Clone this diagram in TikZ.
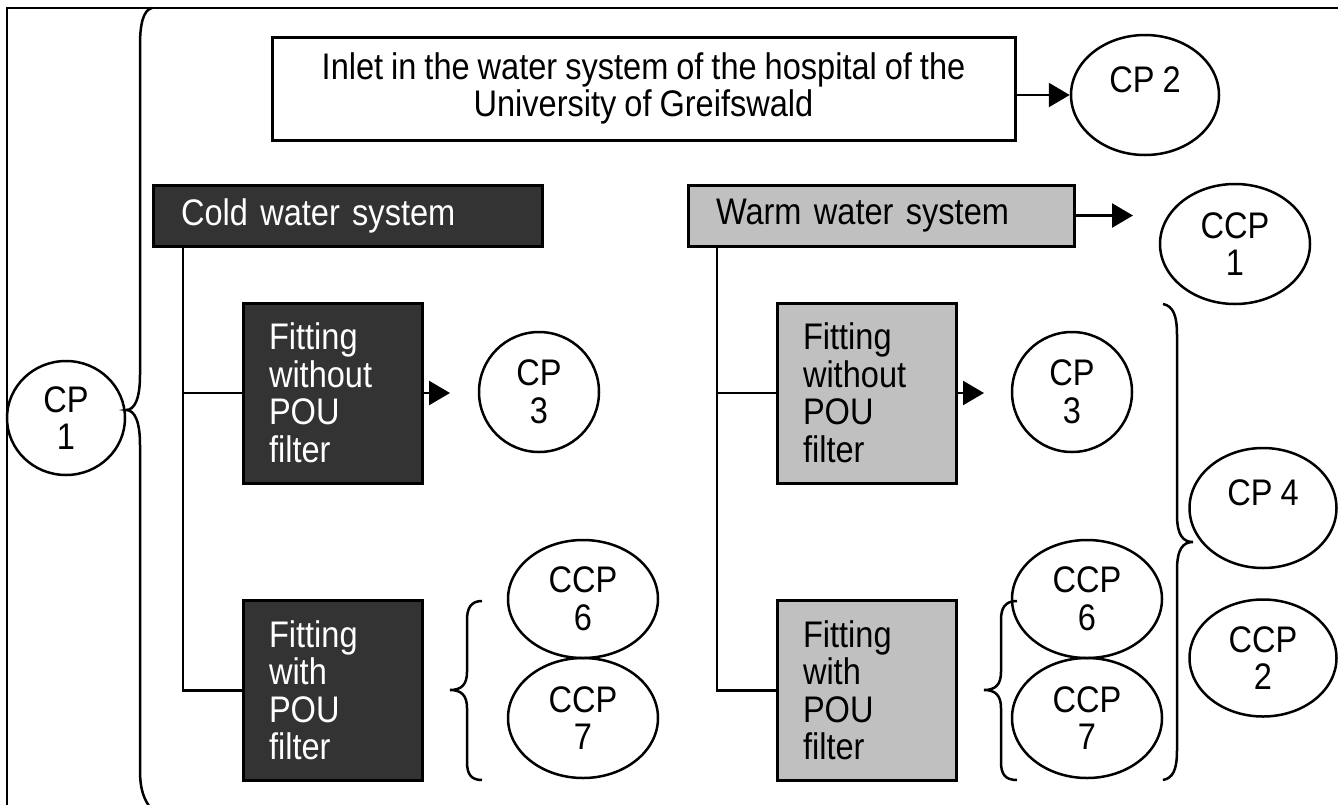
\documentclass[tikz,border=0pt]{standalone}
\usepackage{fontspec}
\setmainfont{Liberation Sans}[FakeStretch=0.88,WordSpace=0.88]
\usetikzlibrary{arrows.meta,shapes.geometric}
\definecolor{boxdark}{HTML}{333333}
\definecolor{boxlight}{HTML}{C0C0C0}
\begin{document}
\begin{tikzpicture}[x=1pt,y=-1pt, line width=2.5pt,
  every node/.style={font=\fontsize{37}{37.5}\selectfont, inner sep=0pt},
  darkbox/.style={draw=black, fill=boxdark, text=white, line width=3pt},
  lightbox/.style={draw=black, fill=boxlight, text=black, line width=3pt},
  fitbox/.style={minimum width=179pt, minimum height=180pt, text width=127pt, align=left},
  oval/.style={ellipse, draw, align=center, inner sep=0pt, line width=2.5pt},
  arr/.style={-{Triangle[length=21pt,width=24pt]}},
  brace/.style={line width=2.5pt}]
\useasboundingbox (0,0) rectangle (1342,804);

% frame
\draw[line width=2.5pt] (1338,8) -- (7,8) -- (7,812);

% top box
\node[draw, line width=3pt, minimum width=743pt, minimum height=103pt, align=center] (inlet) at (643.5,88.5)
  {Inlet in the water system of the hospital of the\\University of Greifswald};
\node[oval, minimum width=148pt, minimum height=120pt, text depth=30pt] (cp2) at (1145,95) {CP 2};
\draw[arr] (cp2.west -| inlet.east) -- (cp2.west);

% system boxes
\node[darkbox, minimum width=389pt, minimum height=61pt, text width=333pt, align=left] (cold) at (347.5,215.5) {Cold water system};
\node[lightbox, minimum width=386pt, minimum height=61pt, text width=330pt, align=left] (warm) at (881,215.5) {Warm water system};
\node[oval, minimum width=150pt, minimum height=120pt] (ccp1) at (1235,244) {CCP\\1};
\coordinate (t1) at (1133,215.5);
\draw[arr] (warm.east) -- (t1);

% fitting boxes
\node[darkbox, fitbox] (fcw) at (332.5,393) {Fitting\\without\\POU\\filter};
\node[darkbox, fitbox] (fcp) at (332.5,690.5) {Fitting\\with\\POU\\filter};
\node[lightbox, fitbox] (fww) at (866.5,393) {Fitting\\without\\POU\\filter};
\node[lightbox, fitbox] (fwp) at (866.5,690.5) {Fitting\\with\\POU\\filter};

% tree connectors
\coordinate (cv) at (183,246);
\coordinate (wv) at (717,246);
\draw (cv) |- (fcw.west);
\draw (cv) |- (fcp.west);
\draw (wv) |- (fww.west);
\draw (wv) |- (fwp.west);

% ellipses
\node[oval, minimum width=118pt, minimum height=114pt] (cp1) at (66,418) {CP\\1};
\node[oval, minimum width=120pt, minimum height=120pt] (cp3c) at (539,392) {CP\\3};
\node[oval, minimum width=120pt, minimum height=120pt] (cp3w) at (1072,392) {CP\\3};
\node[oval, minimum width=150pt, minimum height=118pt] (ccp6c) at (583,599) {CCP\\6};
\node[oval, minimum width=150pt, minimum height=120pt] (ccp7c) at (583,718) {CCP\\7};
\node[oval, minimum width=150pt, minimum height=118pt] (ccp6w) at (1087,599) {CCP\\6};
\node[oval, minimum width=150pt, minimum height=120pt] (ccp7w) at (1087,718) {CCP\\7};
\node[oval, minimum width=147pt, minimum height=120pt, text depth=30pt] (cp4) at (1263,508) {CP 4};
\node[oval, minimum width=147pt, minimum height=117pt] (ccp2) at (1263,658) {CCP\\2};

% arrows to CP3
\coordinate (t2) at (450,393);
\coordinate (t3) at (984,393);
\draw[arr] (fcw.east) -- (t2);
\draw[arr] (fww.east) -- (t3);

% braces
\draw[brace] (152,8) .. controls (143,10) and (140,25) .. (140,45) -- (140,375)
  .. controls (140,398) and (135,410) .. (126,410)
  .. controls (135,410) and (140,422) .. (140,445) -- (140,770)
  .. controls (140,790) and (144,800) .. (152,810);
\draw[brace] (482,601) .. controls (471,601) and (467,608) .. (467,620) -- (467,672)
  .. controls (467,685) and (461,690) .. (450,690)
  .. controls (461,690) and (467,695) .. (467,708) -- (467,762)
  .. controls (467,774) and (471,780) .. (482,780);
\draw[brace] (1017,601) .. controls (1005,601) and (1001,608) .. (1001,620) -- (1001,672)
  .. controls (1001,685) and (995,690) .. (984,690)
  .. controls (995,690) and (1001,695) .. (1001,708) -- (1001,762)
  .. controls (1001,774) and (1005,780) .. (1017,780);
\draw[brace] (1163,304) .. controls (1173,306) and (1177,315) .. (1177,335) -- (1177,515)
  .. controls (1177,535) and (1183,542) .. (1193,542)
  .. controls (1183,542) and (1177,549) .. (1177,570) -- (1177,750)
  .. controls (1177,770) and (1173,778) .. (1163,780);
\end{tikzpicture}
\end{document}
